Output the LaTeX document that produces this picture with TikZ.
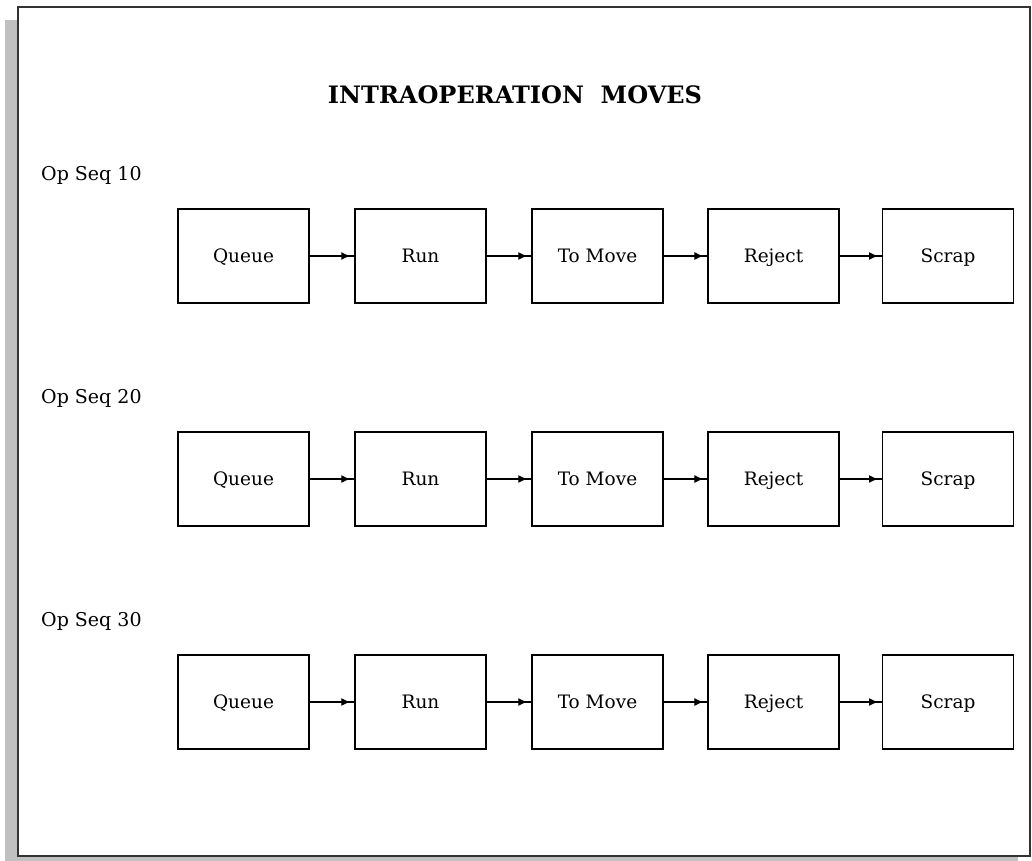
\documentclass[tikz,border=0pt]{standalone}
\usepackage{fontspec}
\setmainfont{DejaVu Serif}
\usetikzlibrary{arrows.meta,decorations.markings}
\definecolor{shadowgray}{HTML}{C0C0C0}
\definecolor{framegray}{HTML}{333333}
\tikzset{
  stagebox/.style={draw=black, line width=1.4pt, minimum width=131pt, minimum height=94pt,
    inner sep=0pt, text height=13.5pt, text depth=0pt, font=\fontsize{18.5}{22}\selectfont},
  flow/.style={line width=1.2pt, postaction={decorate}, decoration={markings,
    mark=at position 0.91 with {\arrow{Latex[length=9pt,width=8pt]}}}},
  seqlabel/.style={anchor=west, inner sep=0pt, font=\fontsize{19}{22}\selectfont},
}
\begin{document}
\begin{tikzpicture}[x=1pt,y=-1pt]
\useasboundingbox (0,0) rectangle (1032,860);
\fill[shadowgray] (5,20) rectangle (1018,872);
\filldraw[fill=white, draw=framegray, line width=2pt] (18,7) rectangle (1030,856);
\node[font=\bfseries\fontsize{24}{28}\selectfont] (title) at (515,95) {INTRAOPERATION\ \ MOVES};
\foreach \r/\y/\lab in {1/256/10, 2/479/20, 3/702/30} {
  \node[seqlabel] (seq\r) at (41,\y-81) {Op Seq \lab};
  \node[stagebox] (q\r) at (243.5,\y) {Queue};
  \node[stagebox] (r\r) at (420.5,\y) {Run};
  \node[stagebox] (m\r) at (597.5,\y) {To Move};
  \node[stagebox] (j\r) at (773.5,\y) {Reject};
  \node[stagebox] (s\r) at (948,\y) {Scrap};
  \draw[flow] (q\r.east) -- (r\r.west);
  \draw[flow] (r\r.east) -- (m\r.west);
  \draw[flow] (m\r.east) -- (j\r.west);
  \draw[flow] (j\r.east) -- (s\r.west);
}
\end{tikzpicture}
\end{document}
